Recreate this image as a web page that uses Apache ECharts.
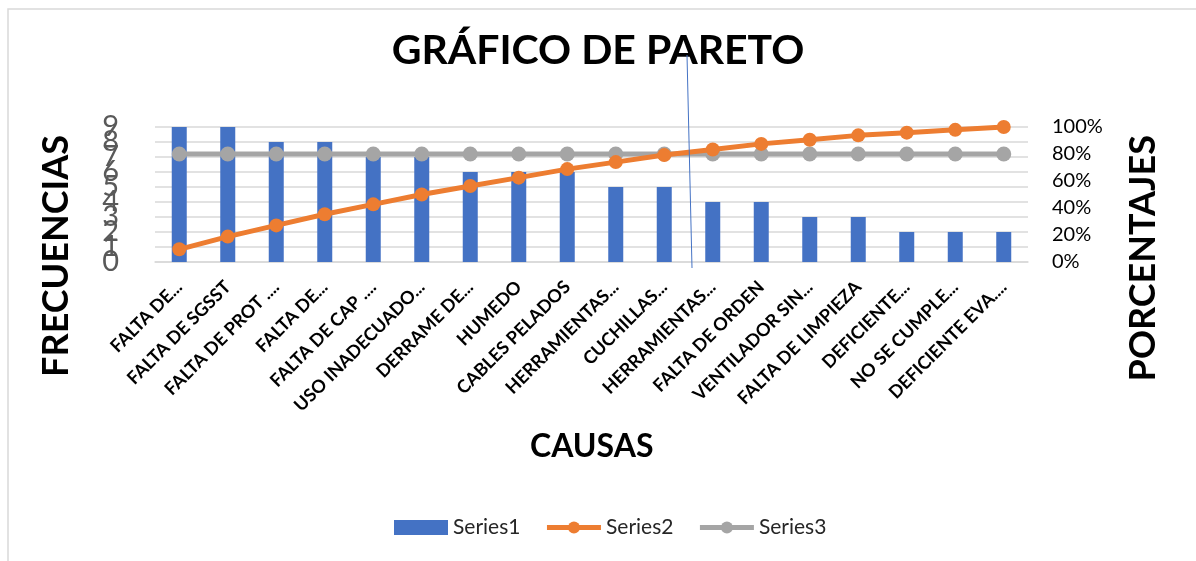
<!DOCTYPE html>
<html>
<head>
<meta charset="utf-8">
<title>Gráfico de Pareto</title>
<script src="https://cdn.jsdelivr.net/npm/echarts@6/dist/echarts.min.js"></script>
<style>
  html, body { margin: 0; padding: 0; background: #fff; }
  #pareto { width: 1196px; height: 561px; }
</style>
</head>
<body>
<div id="pareto"></div>
<script>
// causas (etiquetas tal como salen recortadas en el grafico)
var causas = [
  'FALTA DE...', 'FALTA DE SGSST', 'FALTA DE PROT ....', 'FALTA DE...',
  'FALTA DE CAP ....', 'USO INADECUADO...', 'DERRAME DE...', 'HUMEDO',
  'CABLES PELADOS', 'HERRAMIENTAS...', 'CUCHILLAS...', 'HERRAMIENTAS...',
  'FALTA DE ORDEN', 'VENTILADOR SIN...', 'FALTA DE LIMPIEZA', 'DEFICIENTE...',
  'NO SE CUMPLE...', 'DEFICIENTE EVA....'
]
// frecuencias
var series1 = [9, 9, 8, 8, 7, 7, 6, 6, 6, 5, 5, 4, 4, 3, 3, 2, 2, 2]
// porcentaje acumulado
var series2 = [9.4, 18.8, 27.1, 35.4, 42.7, 50, 56.3, 62.5, 68.8, 74, 79.2, 83.3, 87.5, 90.6, 93.8, 95.8, 97.9, 100]
// linea del 80%
var series3 = [80, 80, 80, 80, 80, 80, 80, 80, 80, 80, 80, 80, 80, 80, 80, 80, 80, 80]
// etiquetas del eje de frecuencias (se pisan unas con otras, como en el original)
var freqTicks = ['0', '1', '2', '3', '4', '5', '6', '7', '8', '9']

var font = 'Lato, "Open Sans", sans-serif'

var myChart = echarts.init(document.getElementById('pareto'))
myChart.setOption({
  animation: false,
  textStyle: { fontFamily: font },
  title: {
    text: 'GRÁFICO DE PARETO',
    left: 'center',
    top: 25,
    textStyle: { fontSize: 41, fontWeight: 'bold', color: '#000', fontFamily: font }
  },
  legend: {
    bottom: 18,
    left: 389,
    itemWidth: 54,
    itemHeight: 15,
    itemGap: 24,
    textStyle: { fontSize: 21, color: '#262626' },
    data: [
      { name: 'Series1', icon: 'rect' },
      { name: 'Series2', lineStyle: { width: 5 } },
      { name: 'Series3', lineStyle: { width: 5 } }
    ]
  },
  grid: {
    left: 155,
    right: 168,
    top: 127,
    bottom: 299,
    containLabel: false
  },
  xAxis: {
    type: 'category',
    data: causas,
    axisTick: { show: false },
    axisLine: { lineStyle: { color: '#D9D9D9', width: 1.5 } },
    axisLabel: {
      interval: 0,
      rotate: 45,
      margin: 22,
      fontSize: 18,
      fontWeight: 'bold',
      color: '#000'
    }
  },
  yAxis: [
    {
      type: 'value',
      min: 0,
      max: 9,
      interval: 1,
      axisLine: { show: false },
      axisTick: { show: false },
      axisLabel: { show: false },
      splitLine: { lineStyle: { color: '#D9D9D9', width: 1.5 } }
    },
    {
      type: 'value',
      min: 0,
      max: 100,
      interval: 20,
      axisLine: { show: false },
      axisTick: { show: false },
      splitLine: { show: false },
      axisLabel: { fontSize: 20, color: '#000', margin: 24, formatter: '{value}%' }
    },
    {
      // solo para rotular 0..9 sin que se oculten las que se solapan
      type: 'category',
      position: 'left',
      data: freqTicks,
      boundaryGap: false,
      axisLine: { show: false },
      axisTick: { show: false },
      splitLine: { show: false },
      axisLabel: { interval: 0, fontSize: 29, color: '#595959', margin: 36 }
    }
  ],
  series: [
    {
      name: 'Series1',
      type: 'bar',
      barWidth: 15,
      data: series1,
      itemStyle: { color: '#4472C4' },
      z: 1
    },
    {
      name: 'Series2',
      type: 'line',
      yAxisIndex: 1,
      data: series2,
      symbol: 'circle',
      symbolSize: 14,
      lineStyle: { color: '#ED7D31', width: 5 },
      itemStyle: { color: '#ED7D31' },
      z: 3
    },
    {
      name: 'Series3',
      type: 'line',
      yAxisIndex: 1,
      data: series3,
      symbol: 'circle',
      symbolSize: 15,
      lineStyle: { color: '#A5A5A5', width: 5 },
      itemStyle: { color: '#A5A5A5' },
      z: 2
    }
  ],
  graphic: [
    // borde del area del grafico
    {
      type: 'rect',
      shape: { x: 8, y: 9, width: 1200, height: 560 },
      style: { fill: 'none', stroke: '#D9D9D9', lineWidth: 1.5 },
      silent: true
    },
    // linea suelta dibujada encima
    {
      type: 'line',
      shape: { x1: 687, y1: 55, x2: 692, y2: 268 },
      style: { stroke: '#4472C4', lineWidth: 1 },
      z: 10,
      silent: true
    },
    {
      type: 'text',
      left: 38,
      top: 135,
      rotation: Math.PI / 2,
      style: { text: 'FRECUENCIAS', fontSize: 36, fontWeight: 'bold', fill: '#000', fontFamily: font }
    },
    {
      type: 'text',
      left: 1125,
      top: 135,
      rotation: Math.PI / 2,
      style: { text: 'PORCENTAJES', fontSize: 36, fontWeight: 'bold', fill: '#000', fontFamily: font }
    },
    {
      type: 'text',
      left: 530,
      top: 431,
      style: { text: 'CAUSAS', fontSize: 32, fontWeight: 'bold', fill: '#000', fontFamily: font }
    }
  ]
})
</script>
</body>
</html>
